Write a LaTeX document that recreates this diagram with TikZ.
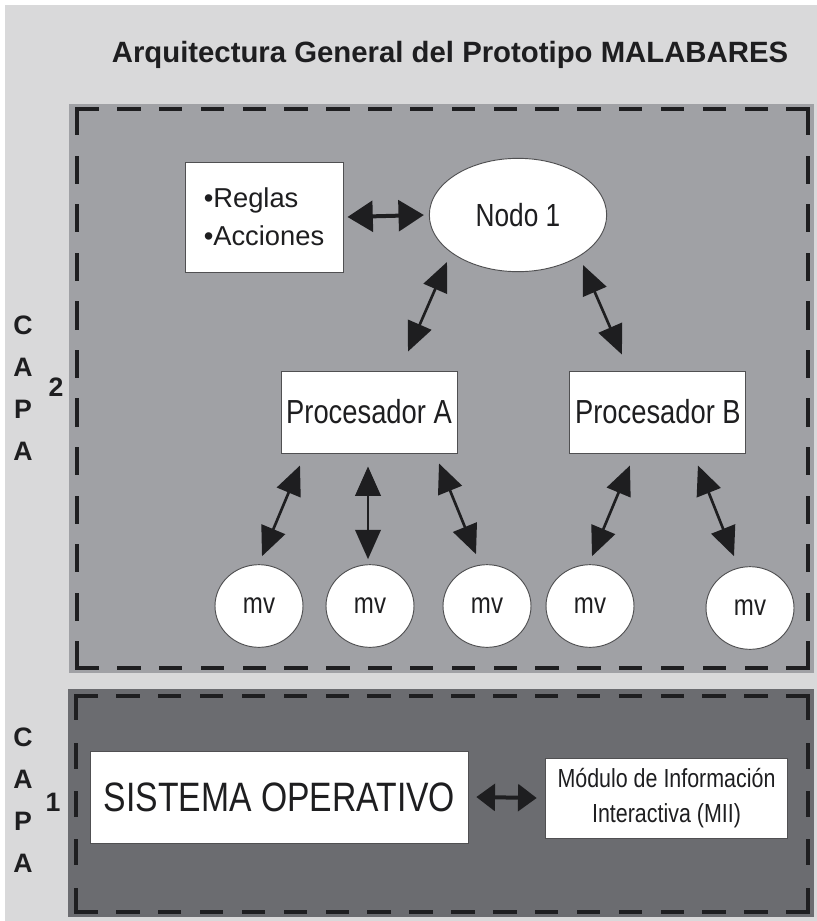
\documentclass[tikz,border=0pt]{standalone}
\usepackage{fontspec}
\setmainfont{Liberation Sans}
\newfontfamily\estrecha[FakeStretch=0.82]{Liberation Sans}
\usepackage{xcolor}
\usepackage{tikz}
\usetikzlibrary{arrows.meta, positioning, shapes.geometric}
\definecolor{fondo}{RGB}{217,217,218}
\definecolor{capados}{RGB}{160,161,165}
\definecolor{capauno}{RGB}{107,108,112}
\definecolor{trazo}{RGB}{30,30,32}
\definecolor{borde}{RGB}{80,80,82}

\begin{document}
\begin{tikzpicture}[
  x=0.75pt, y=-0.75pt,
  caja/.style={draw=borde, fill=white, line width=0.7pt, inner sep=0pt,
               text=trazo, font=\estrecha\fontsize{25}{28}\selectfont},
  burbuja/.style={ellipse, draw=borde, fill=white, line width=0.7pt, inner sep=0pt,
                  text=trazo, font=\estrecha\fontsize{24}{28}\selectfont},
  flecha/.style={{Triangle[length=22pt,width=19pt]}-{Triangle[length=22pt,width=19pt]},
                 line width=2pt, draw=trazo},
  flechaancha/.style={{Triangle[length=19pt,width=23pt]}-{Triangle[length=19pt,width=23pt]},
                      line width=3pt, draw=trazo},
  flechacorta/.style={{Triangle[length=14pt,width=20pt]}-{Triangle[length=14pt,width=20pt]},
                      line width=3pt, draw=trazo},
  marco/.style={draw=trazo, line width=2.6pt, line cap=rect, dash pattern=#1},
  letra/.style={inner sep=0pt, text=trazo, align=center,
                font=\bfseries\fontsize{20}{31.5}\selectfont}
]
% fondo y limites
\fill[white] (0,0) rectangle (817,921);
\useasboundingbox (0,0) rectangle (817,921);
\fill[fondo] (5,5) rectangle (817,921);

% capa 2
\fill[capados] (69,104) rectangle (814,673);
\draw[marco={on 15pt off 16.37pt}] (77,109) -- (808,109);
\draw[marco={on 15pt off 16.37pt}] (77,668) -- (808,668);
\draw[marco={on 18.5pt off 17.9pt}] (77,109) -- (77,668);
\draw[marco={on 18.5pt off 17.9pt}] (808,109) -- (808,668);

% capa 1
\fill[capauno] (68,689) rectangle (814,917);
\draw[marco={on 15pt off 16.41pt}] (76,696) -- (808,696);
\draw[marco={on 15pt off 16.41pt}] (76,912) -- (808,912);
\draw[marco={on 17pt off 19.25pt}] (76,696) -- (76,912);
\draw[marco={on 17pt off 19.25pt}] (808,696) -- (808,912);

% textos
\node[inner sep=0pt, text=trazo, font=\bfseries\fontsize{22}{26}\selectfont] (titulo) at (450,55)
  {Arquitectura General del Prototipo MALABARES};
\node[letra] (capa2) at (23,388) {C\\A\\P\\A};
\node[letra] (num2) at (56,387) {2};
\node[letra] (capa1) at (23,800) {C\\A\\P\\A};
\node[letra] (num1) at (53,802) {1};

% capa 2: nodos
\node[caja, minimum width=118.5pt, minimum height=82.5pt, align=left,
      font=\fontsize{20.5}{28.5}\selectfont] (reglas) at (264,217)
  {\textbullet Reglas\\\textbullet Acciones};
\node[burbuja, minimum width=133pt, minimum height=85pt] (nodo) at (518,215) {Nodo 1};
\node[caja, minimum width=132pt, minimum height=61.5pt] (procA) at (369,412) {Procesador A};
\node[caja, minimum width=132pt, minimum height=61.5pt, right=84pt of procA] (procB) {Procesador B};

\node[burbuja, minimum width=66pt, minimum height=62pt, font=\estrecha\fontsize{22}{26}\selectfont] (mv1) at (259,606) {mv};
\node[burbuja, minimum width=66pt, minimum height=62pt, font=\estrecha\fontsize{22}{26}\selectfont] (mv2) at (370,606) {mv};
\node[burbuja, minimum width=66pt, minimum height=62pt, font=\estrecha\fontsize{22}{26}\selectfont] (mv3) at (487,606) {mv};
\node[burbuja, minimum width=66pt, minimum height=62pt, font=\estrecha\fontsize{22}{26}\selectfont] (mv4) at (590,606) {mv};
\node[burbuja, minimum width=66pt, minimum height=62pt, font=\estrecha\fontsize{22}{26}\selectfont] (mv5) at (750,608) {mv};

% capa 2: conexiones
\draw[flechaancha] ([shift={(4,0)}]reglas.east) -- ([shift={(-5,0)}]nodo.west);
\draw[flecha] ([shift={(-71,47)}]nodo.center) -- ([shift={(39,-19)}]procA.north);
\draw[flecha] ([shift={(65,50)}]nodo.center) -- ([shift={(-36,-16)}]procB.north);
\draw[flecha] ([shift={(-69,12)}]procA.south) -- ([shift={(3,-8)}]mv1.north);
\draw[flecha] ([shift={(-1,13)}]procA.south) -- ([shift={(-2,-5)}]mv2.north);
\draw[flecha] ([shift={(70,10)}]procA.south) -- ([shift={(-11,-10)}]mv3.north);
\draw[flecha] ([shift={(-28,12)}]procB.south) -- ([shift={(2,-8)}]mv4.north);
\draw[flecha] ([shift={(40,12)}]procB.south) -- ([shift={(-16,-10)}]mv5.north);

% capa 1: nodos
\node[caja, minimum width=284pt, minimum height=69pt,
      font=\estrecha\fontsize{30.8}{34}\selectfont] (so) at (279.5,797) {SISTEMA OPERATIVO};
\node[caja, minimum width=182pt, minimum height=60pt, align=center,
      font=\estrecha\fontsize{19.6}{26}\selectfont] (mii) at (666.5,798)
  {Módulo de Información\\Interactiva (MII)};
\draw[flechacorta] ([shift={(7,0)}]so.east) -- ([shift={(-8,0)}]mii.west);
\end{tikzpicture}
\end{document}
